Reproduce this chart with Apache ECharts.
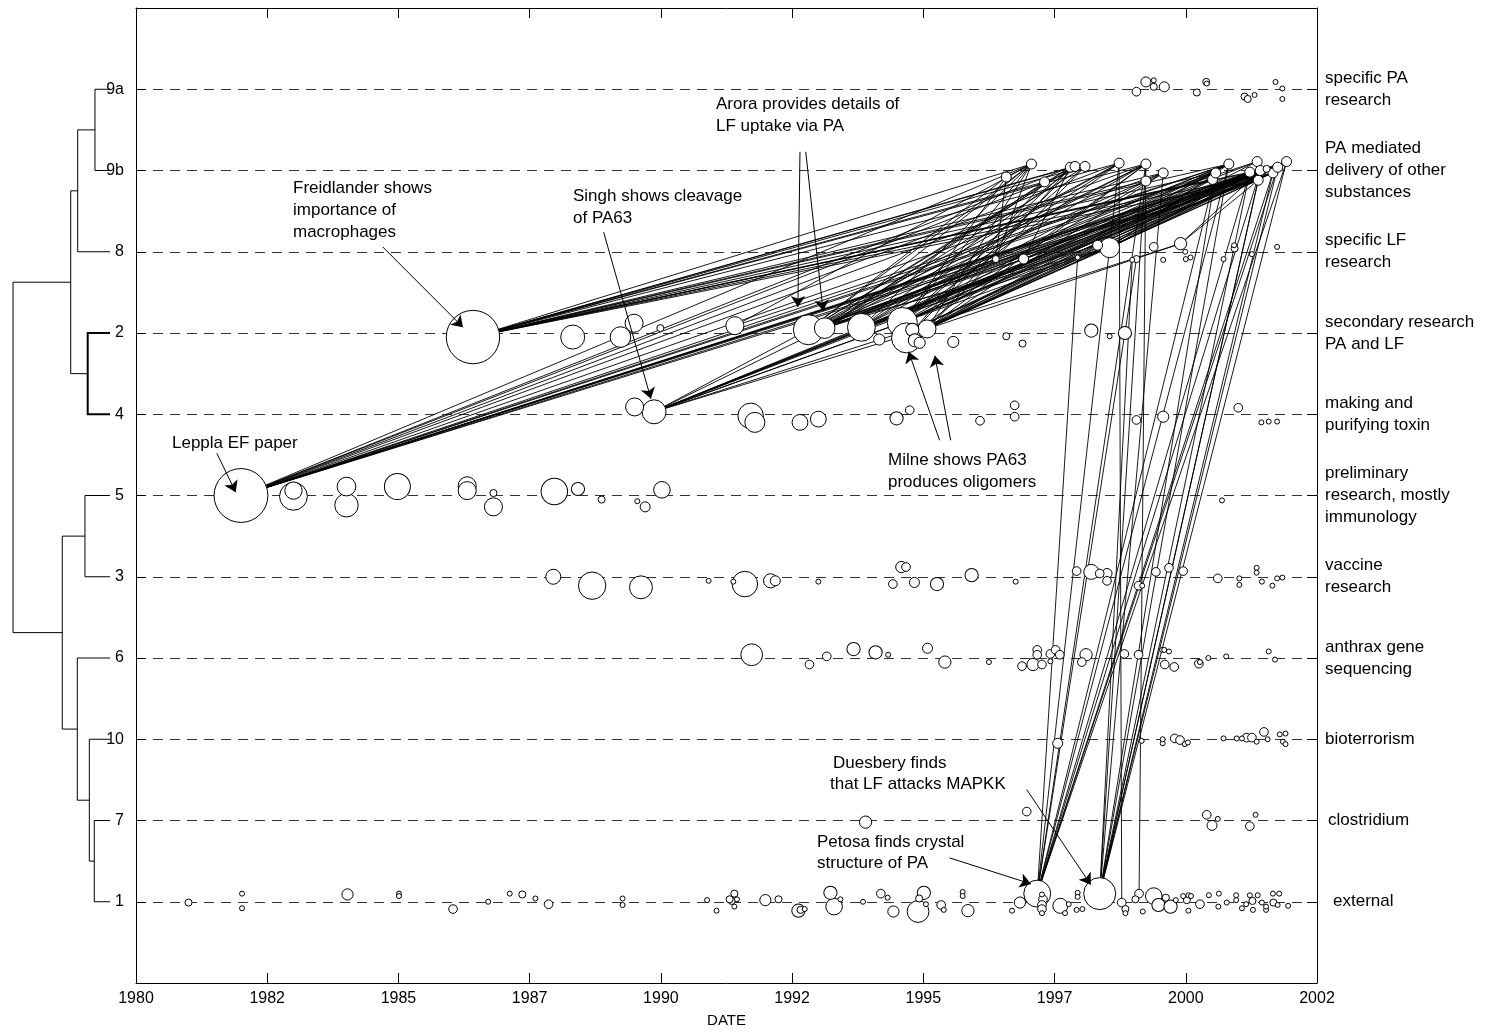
<!DOCTYPE html>
<html><head><meta charset="utf-8">
<script src="https://cdn.jsdelivr.net/npm/echarts@6/dist/echarts.min.js"></script>
<style>html,body{margin:0;padding:0;background:#fff}#chart{width:1485px;height:1034px}</style>
</head><body><div id="chart"></div>
<script>
const FONT = '"Liberation Sans", Arial, Helvetica, sans-serif';

// x axis: years, ticks every 2.5 years, labels shown rounded down
const xMin = 1980, xMax = 2002.5, xStep = 2.5;

// clusters on the y axis, bottom (1) to top (11)
const clusterIds = ['1','7','10','6','3','5','4','2','8','9b','9a'];
const clusterNames = ['external','clostridium','bioterrorism','anthrax gene\nsequencing','vaccine\nresearch',
  'preliminary\nresearch, mostly\nimmunology','making and\npurifying toxin','secondary research\nPA and LF',
  'specific LF\nresearch','PA mediated\ndelivery of other\nsubstances','specific PA\nresearch'];

// papers: [year, position on y axis, citations]
const papersPA = [[1999.06,10.97,3],[1999.24,11.09,4],[1999.39,11.11,1],[1999.39,11.03,2],[1999.59,11.03,4],[2000.21,10.96,2],[2000.39,11.09,2],[2000.40,11.07,1],[2001.12,10.91,2],[2001.18,10.88,2],[2001.31,10.93,1],[2001.71,11.09,1],[2001.84,11.01,1],[2001.84,10.88,1]];
const papersDelivery = [[1996.58,9.92,4],[1997.06,10.08,4],[1997.31,9.86,4],[1997.80,10.04,4],[1997.89,10.05,4],[1998.08,10.05,4],[1998.73,10.09,4],[1999.24,10.08,4],[1999.24,9.87,4],[1999.57,9.97,4],[2000.51,9.89,4],[2000.57,9.97,4],[2000.82,10.08,4],[2001.22,9.98,4],[2001.36,10.11,4],[2001.38,9.88,4],[2001.42,10.00,4],[2001.66,9.97,4],[2001.75,10.04,4],[2001.92,10.11,4],[2001.54,10.02,2]];
const papersLF = [[1996.38,8.91,2],[1996.91,8.91,4],[1997.94,8.93,1],[1998.32,9.08,4],[1998.55,9.05,16],[1998.98,8.90,1],[1999.06,8.91,2],[1999.39,9.06,3],[1999.57,8.90,1],[1999.90,9.10,6],[1999.99,9.00,1],[2000.00,8.91,1],[2000.09,8.93,1],[2000.72,8.91,1],[2000.92,9.08,1],[2000.93,9.04,2],[2001.26,8.97,1],[2001.74,9.06,1]];
const papersSecondary = [[1986.42,7.95,114],[1988.32,7.95,23],[1989.23,7.95,17],[1989.49,8.12,13],[1989.99,8.06,2],[1991.41,8.09,13],[1992.81,8.04,36],[1993.12,8.06,17],[1993.82,8.07,31],[1994.16,7.92,5],[1994.60,8.13,36],[1994.68,7.94,36],[1994.79,8.04,7],[1994.84,7.91,7],[1994.93,7.88,5],[1995.07,8.05,13],[1995.57,7.89,5],[1996.58,7.96,2],[1996.89,7.87,2],[1998.20,8.03,7],[1998.55,7.96,1],[1998.84,8.00,7]];
const papersToxin = [[1989.50,7.09,13],[1989.87,7.03,23],[1991.71,6.98,26],[1991.79,6.90,16],[1992.65,6.90,10],[1993.00,6.94,10],[1994.49,6.95,7],[1994.74,7.05,3],[1996.08,6.92,3],[1996.74,7.11,3],[1996.74,6.97,3],[1999.06,6.93,3],[1999.57,6.97,5],[2001.00,7.08,3],[2001.44,6.90,1],[2001.58,6.91,1],[2001.74,6.91,1]];
const papersPrelim = [[1982.00,6.00,116],[1983.00,5.99,31],[1983.00,6.06,12],[1984.01,6.11,14],[1984.01,5.88,22],[1984.98,6.11,27],[1986.31,6.12,13],[1986.31,6.06,13],[1986.81,6.03,2],[1986.81,5.86,13],[1987.97,6.05,28],[1988.42,6.08,7],[1988.87,5.95,2],[1989.55,5.93,1],[1989.70,5.86,4],[1990.02,6.07,11],[2000.69,5.94,1]];
const papersVaccine = [[1987.95,5.00,9],[1988.69,4.89,30],[1989.62,4.87,21],[1990.91,4.95,1],[1991.38,4.94,1],[1991.60,4.91,26],[1992.09,4.95,8],[1992.18,4.95,4],[1993.00,4.94,1],[1994.42,4.91,3],[1994.58,5.12,5],[1994.67,5.12,3],[1994.83,4.93,4],[1995.26,4.91,7],[1995.92,5.02,7],[1996.76,4.94,1],[1997.92,5.07,3],[1998.20,5.06,9],[1998.36,5.04,3],[1998.50,5.04,4],[1998.50,4.95,3],[1999.10,4.89,3],[1999.17,4.89,1],[1999.43,5.06,3],[1999.68,5.11,3],[1999.95,5.07,3],[2000.61,4.98,3],[2001.02,4.98,1],[2001.02,4.90,1],[2001.35,5.11,1],[2001.35,5.05,1],[2001.45,4.94,1],[2001.65,4.89,1],[2001.74,4.98,1],[2001.84,4.99,1]];
const papersGeneSeq = [[1991.73,4.04,19],[1992.83,3.92,3],[1993.16,4.02,3],[1993.67,4.11,7],[1994.09,4.07,7],[1994.33,4.04,1],[1995.08,4.12,4],[1995.41,3.95,6],[1996.25,3.95,1],[1996.88,3.90,3],[1997.09,3.92,6],[1997.17,4.10,3],[1997.17,4.04,3],[1997.26,3.92,3],[1997.42,4.05,3],[1997.42,3.96,1],[1997.52,4.10,3],[1997.60,4.04,3],[1998.02,3.95,3],[1998.10,4.04,6],[1998.83,4.05,3],[1999.10,4.04,3],[1999.55,4.10,1],[1999.59,4.10,1],[1999.68,4.08,1],[1999.60,3.92,3],[1999.78,3.89,3],[2000.25,3.93,3],[2000.27,3.95,1],[2000.43,4.00,1],[2000.77,4.02,1],[2001.58,4.08,1],[2001.70,3.98,1]];
const papersBioterrorism = [[1997.56,2.95,4],[1999.16,2.98,1],[1999.56,2.95,1],[1999.56,3.00,1],[1999.79,3.01,3],[1999.89,2.99,3],[1999.98,2.94,1],[2000.04,2.96,1],[2000.72,3.01,1],[2000.97,3.01,1],[2001.07,3.01,1],[2001.16,3.02,3],[2001.26,3.02,3],[2001.35,2.97,1],[2001.49,3.09,3],[2001.56,3.00,1],[2001.79,3.06,1],[2001.85,2.97,1],[2001.90,2.94,1],[2001.90,3.07,1]];
const papersClostridium = [[1993.90,1.98,6],[1996.97,2.11,3],[2000.40,2.07,3],[2000.50,1.94,4],[2000.61,2.02,1],[2001.22,1.93,3],[2001.33,2.07,1]];
const papersExternal = [[1997.17,1.10,29],[1998.36,1.10,41],[1998.78,0.99,3],[1999.11,1.10,3],
  [1981.00,0.99,2],[1982.02,1.10,1],[1982.02,0.92,1],[1984.03,1.09,5],[1985.01,1.10,1],[1985.01,1.07,1],[1986.04,0.91,3],[1986.71,1.00,1],[1987.12,1.10,1],[1987.36,1.09,2],[1987.61,1.04,1],[1987.86,0.97,3],[1989.27,1.04,1],[1989.27,0.96,1],
  [1990.88,1.02,1],[1991.06,0.89,1],[1991.35,1.01,2],[1991.40,1.10,2],[1991.31,1.03,2],[1991.45,1.03,1],[1991.40,0.94,1],[1991.99,1.02,5],[1992.24,1.03,2],[1992.62,0.89,7],[1992.66,0.90,2],[1992.74,0.91,1],
  [1993.23,1.11,7],[1993.30,0.94,11],[1993.42,1.03,1],[1993.85,1.00,1],[1994.19,1.10,3],[1994.32,1.05,1],[1994.43,0.88,5],[1995.01,1.11,7],[1994.92,1.04,2],[1994.90,0.88,19],[1995.05,0.97,1],[1995.34,0.96,3],[1995.39,0.90,1],[1995.75,1.12,1],[1995.75,1.07,1],[1995.85,0.89,6],
  [1996.69,0.89,1],[1996.84,0.99,5],[1997.26,1.09,1],[1997.28,1.03,3],[1997.26,0.96,3],[1997.26,0.91,3],[1997.26,0.86,1],[1997.61,0.95,9],[1997.77,0.97,1],[1997.70,0.86,1],[1997.94,1.11,1],[1997.94,1.06,1],[1997.92,0.90,1],[1998.03,0.91,1],
  [1998.85,0.91,2],[1998.85,0.86,1],[1999.04,1.03,2],[1999.18,0.88,1],[1999.39,1.07,11],[1999.48,0.96,7],[1999.62,1.05,2],[1999.71,0.94,7],[1999.81,1.02,1],[1999.95,1.07,1],[2000.02,1.02,2],[2000.05,1.08,1],[2000.05,0.89,1],[2000.10,1.07,1],[2000.27,0.97,3],
  [2000.44,1.08,1],[2000.63,1.10,1],[2000.62,0.94,1],[2000.78,0.99,1],[2000.96,1.08,1],[2000.96,1.02,1],[2001.07,0.92,1],[2001.15,0.97,1],[2001.22,1.08,1],[2001.28,0.90,1],[2001.27,1.01,2],[2001.37,1.08,1],[2001.45,0.99,1],[2001.53,0.90,1],[2001.53,0.94,1],[2001.66,1.10,1],[2001.67,0.99,2],[2001.78,1.10,1],[2001.75,0.96,1],[2001.95,0.95,1]];

// citation links: [citedCluster, index, citingCluster, [indices]]
const citationLinks = [
  ['5',0,'9b',[1,3,5,6,7,9,11,12,13,14,16,17,18,19,15,20]],
  ['2',0,'9b',[1,2,3,4,5,6,7,8,9,11,12,13,15,16,17,10]],
  ['4',1,'2',[6,7,8,10,15]],
  ['4',1,'9b',[13,16,17,18,19]],
  ['4',1,'8',[9,4]],
  ['2',6,'9b',[0,1,3,4,6,7,9,12,13,16,18]],
  ['2',6,'8',[1,4]],
  ['2',7,'9b',[1,2,3,5,6,7,11,12,14,16,17,19]],
  ['2',7,'8',[3]],
  ['2',8,'9b',[1,4,6,7,8,10,13,15,16,18]],
  ['2',8,'8',[4]],
  ['2',10,'9b',[0,1,3,5,6,9,11,12,13,16,17,19]],
  ['2',11,'9b',[2,4,7,10,13,15,18]],
  ['2',11,'8',[4]],
  ['2',15,'9b',[1,3,5,7,9,12,14,16,17,19]],
  ['2',15,'8',[9]],
  ['2',12,'9b',[13,16,18]],
  ['2',5,'9b',[1,12]],
  ['8',0,'9b',[0,1]],
  ['8',1,'9b',[3,12,16]],
  ['8',4,'9b',[12,13,16,18,19]],
  ['8',9,'9b',[15,16]],
  ['9b',0,'9b',[1]],
  ['1',0,'8',[2,6]],
  ['1',0,'9b',[6,7,11,12,13,16,17,18,19]],
  ['1',1,'8',[5]],
  ['1',1,'9b',[7,9,11,12,13,15,16,17,18,19]],
  ['1',2,'9b',[6]],
  ['1',3,'9b',[7]]
];

// dendrogram: leaves top to bottom, merges [childA, childB, linkage distance]
const dendroLeaves = ['9a','9b','8','2','4','5','3','6','10','7','1'];
const dendroMerges = [[0,1,1.55],[11,2,3.33],[3,4,2.30],[12,13,4.05],[5,6,2.58],[9,10,1.62],[8,16,2.13],[7,17,3.37],[15,18,4.92],[14,19,10.0]];

// annotation arrows [fromYear, fromY, toYear, toY]
const arrowLinks = [[1981.54,6.52,1981.90,6.04],[1984.70,9.06,1986.23,8.07],[1988.91,9.24,1989.81,7.19],
  [1992.65,10.23,1992.61,8.32],[1992.76,10.23,1993.09,8.27],[1995.31,6.68,1994.72,7.77],[1995.52,6.68,1995.22,7.72],
  [1996.97,2.38,1998.19,1.21],[1995.50,1.54,1997.05,1.22]];

// annotation text lines [text, left px, centre px]
const noteLines = [['Freidlander shows',293,188],['importance of',293,210],['macrophages',293,232],
  ['Singh shows cleavage',573,196],['of PA63',573,218],
  ['Arora provides details of',716,104],['LF uptake via PA',716,126],
  ['Leppla EF paper',172,443],
  ['Milne shows PA63',888,460],['produces oligomers',888,482],
  ['Duesbery finds',833,763],['that LF attacks MAPKK',830,784],
  ['Petosa finds crystal',817,842],['structure of PA',817,863]];

// ---- build
const rows = {'1':papersExternal,'7':papersClostridium,'10':papersBioterrorism,'6':papersGeneSeq,'3':papersVaccine,
  '5':papersPrelim,'4':papersToxin,'2':papersSecondary,'8':papersLF,'9b':papersDelivery,'9a':papersPA};

const allPapers = [];
Object.keys(rows).forEach(k => rows[k].forEach(p => allPapers.push(p)));
allPapers.sort((a,b) => b[2]-a[2]);

const linkData = [];
citationLinks.forEach(([ra, ia, rb, list]) => {
  const a = rows[ra][ia];
  list.forEach(ib => { const b = rows[rb][ib]; linkData.push({coords:[[a[0],a[1]],[b[0],b[1]]]}); });
});

const arrowData = arrowLinks.map(a => ({coords:[[a[0],a[1]],[a[2],a[3]]]}));

// dendrogram geometry
const nodeH = [], nodeY = [];
dendroLeaves.forEach((l,i) => { nodeH.push(0); nodeY.push(11 - i); });
const dendroData = [];
dendroMerges.forEach(([a,b,h], m) => {
  const item = {coords:[[nodeH[a],nodeY[a]],[h,nodeY[a]],[h,nodeY[b]],[nodeH[b],nodeY[b]]]};
  if (m === 2) item.lineStyle = {width:2};
  dendroData.push(item);
  nodeH.push(h); nodeY.push((nodeY[a]+nodeY[b])/2);
});

const chart = echarts.init(document.getElementById('chart'), null, {renderer:'canvas'});
const axisCommon = {min:0, max:12, interval:1};
const boxLine = {onZero:false, lineStyle:{color:'#000', width:1}};
const boxTick = {inside:true, length:10, lineStyle:{color:'#000'}};
chart.setOption({
  animation:false,
  backgroundColor:'#fff',
  textStyle:{fontFamily:FONT},
  grid:[{left:136, right:168, top:8, bottom:51},{left:13, width:97, top:8, bottom:51}],
  xAxis:[
    {gridIndex:0, type:'value', position:'bottom', min:xMin, max:xMax, interval:xStep,
     axisLine:boxLine, axisTick:boxTick,
     axisLabel:{color:'#000', fontSize:16, fontFamily:FONT, margin:8, showMinLabel:true, showMaxLabel:true,
       formatter:v => String(Math.floor(v))},
     splitLine:{show:false},
     name:'DATE', nameLocation:'middle', nameGap:30, nameTextStyle:{color:'#000', fontSize:15, fontFamily:FONT}},
    {gridIndex:0, type:'value', position:'top', min:xMin, max:xMax, interval:xStep,
     axisLine:boxLine, axisTick:boxTick, axisLabel:{show:false}, splitLine:{show:false}},
    {gridIndex:1, type:'value', min:0, max:10, inverse:true, show:false}
  ],
  yAxis:[
    Object.assign({gridIndex:0, type:'value', position:'left',
     axisLine:boxLine, axisTick:boxTick,
     axisLabel:{color:'#000', fontSize:16, fontFamily:FONT, margin:12,
       formatter:v => (v>=1 && v<=11) ? clusterIds[v-1] : ''},
     splitLine:{show:true, lineStyle:{color:'#333', width:1, type:[10,7]}}}, axisCommon),
    Object.assign({gridIndex:0, type:'value', position:'right',
     axisLine:boxLine, axisTick:boxTick,
     axisLabel:{color:'#000', fontSize:17, fontFamily:FONT, margin:8, lineHeight:22, align:'left',
       formatter:v => {
         if (v<1 || v>11) return '';
         const n = clusterNames[v-1];
         if (n === 'external') return '{e|' + n + '}';
         if (n === 'clostridium') return '{c|' + n + '}';
         return n;
       },
       rich:{e:{padding:[0,0,0,8], fontSize:17, fontFamily:FONT, color:'#000'}, c:{padding:[0,0,0,3], fontSize:17, fontFamily:FONT, color:'#000'}}},
     splitLine:{show:false}}, axisCommon),
    Object.assign({gridIndex:1, type:'value', show:false}, axisCommon)
  ],
  series:[
    {type:'lines', coordinateSystem:'cartesian2d', xAxisIndex:0, yAxisIndex:0, z:2, silent:true,
     symbol:'none', lineStyle:{color:'#000', width:0.9, opacity:1}, data:linkData},
    {type:'scatter', xAxisIndex:0, yAxisIndex:0, z:3, silent:true, symbol:'circle',
     symbolSize:d => 5*Math.sqrt(d[2]),
     itemStyle:{color:'#fff', borderColor:'#000', borderWidth:1, opacity:1}, data:allPapers},
    {type:'lines', coordinateSystem:'cartesian2d', xAxisIndex:0, yAxisIndex:0, z:4, silent:true,
     symbol:['none','arrow'], symbolSize:11, lineStyle:{color:'#000', width:1, opacity:1}, data:arrowData},
    {type:'lines', coordinateSystem:'cartesian2d', xAxisIndex:2, yAxisIndex:2, polyline:true, z:2, silent:true,
     lineStyle:{color:'#000', width:1, opacity:1}, data:dendroData}
  ],
  graphic: noteLines.map(t => ({type:'text', x:t[1], y:t[2], z:10, silent:true,
     style:{text:t[0], fill:'#000', font:'17px ' + FONT, align:'left', verticalAlign:'middle'}}))
});
</script></body></html>
